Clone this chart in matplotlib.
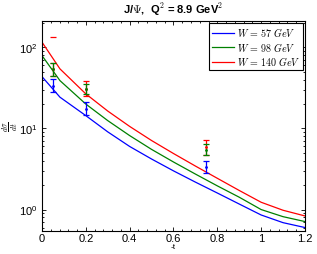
import numpy as np
import matplotlib
matplotlib.use('Agg')
import matplotlib.pyplot as plt
from matplotlib.ticker import MultipleLocator, LogLocator, NullFormatter

plt.rcParams['font.family'] = ['Liberation Sans', 'DejaVu Sans']
plt.rcParams['mathtext.fontset'] = 'cm'

# ---- model curves ----
t_curve = [0.0, 0.082, 0.2, 0.3, 0.4, 0.5, 0.6, 0.7, 0.8, 0.9, 1.0, 1.1, 1.2]
w57 = [43.6, 24.3, 14.4, 9.08, 6.0, 4.2, 3.0, 2.18, 1.6, 1.17, 0.857, 0.689, 0.6]
w98 = [79.2, 38.9, 20.0, 12.5, 8.17, 5.52, 3.86, 2.74, 1.96, 1.42, 1.0, 0.817, 0.711]
w140 = [116, 54.3, 26.7, 16.4, 10.6, 7.1, 4.91, 3.44, 2.43, 1.72, 1.23, 0.98, 0.834]

# ---- data points ----
t_data = [0.05, 0.2, 0.75]
blue_val = [33.8, 17.6, 3.37]
blue_lo = [28.0, 14.7, 2.82]
blue_hi = [40.8, 21.1, 4.0]
green_val = [53.8, 30.7, 5.5]
green_lo = [44.9, 26.7, 4.71]
green_hi = [64.4, 35.4, 6.44]
red_val = [53.8, 31.0, 5.9]
red_lo = [44.9, 25.4, 4.71]
red_hi = [64.4, 38.9, 7.27]
red_extra_t = [0.05]
red_extra_val = [136]

labels = [r'$W\,=\,57\ GeV$', r'$W\,=\,98\ GeV$', r'$W\,=\,140\ GeV$']
colors = ['#0000ff', '#008000', '#ff0000']

fig = plt.figure(figsize=(3.17, 2.55), dpi=100)
ax = fig.add_axes([0.1325, 0.090, 0.8295, 0.824])

for ys, c, lab in zip([w57, w98, w140], colors, labels):
    ax.semilogy(t_curve, ys, color=c, lw=0.9, label=lab)

def err(v, lo, hi):
    v = np.array(v); return [v - np.array(lo), np.array(hi) - v]

ax.errorbar(t_data, red_val, yerr=err(red_val, red_lo, red_hi), fmt='.', color=colors[2],
            ms=2, lw=0.9, capsize=2, capthick=0.9)
ax.errorbar(t_data, green_val, yerr=err(green_val, green_lo, green_hi), fmt='.', color=colors[1],
            ms=2, lw=0.9, capsize=2, capthick=0.9)
ax.errorbar(t_data, blue_val, yerr=err(blue_val, blue_lo, blue_hi), fmt='.', color=colors[0],
            ms=2, lw=0.9, capsize=2, capthick=0.9)
ax.plot(red_extra_t, red_extra_val, '_', color=colors[2], ms=4, mew=0.9)

ax.set_xlim(0, 1.2)
ax.set_ylim(0.543, 212)
ax.set_xticks([0, 0.2, 0.4, 0.6, 0.8, 1.0, 1.2])
ax.set_xticklabels(['0', '0.2', '0.4', '0.6', '0.8', '1', '1.2'])
ax.xaxis.set_minor_locator(MultipleLocator(0.04))
ax.yaxis.set_minor_locator(LogLocator(base=10, subs=np.arange(2, 10)))
ax.yaxis.set_minor_formatter(NullFormatter())
ax.tick_params(which='both', direction='in', top=True, right=True, labelsize=8, width=0.6)
ax.tick_params(axis='x', pad=1.5)
ax.tick_params(which='major', length=3)
ax.tick_params(which='minor', length=1.5)
for s in ax.spines.values():
    s.set_linewidth(0.8)

ax.set_title(r'J/$\mathbf{\Psi}$,  Q$^\mathbf{2}$ = 8.9 GeV$^\mathbf{2}$', fontsize=8,
             fontweight='bold', pad=6)
ax.set_xlabel('-t', fontsize=6, labelpad=0)
ax.set_ylabel(r'$\frac{d\sigma}{dt}$', fontsize=8, rotation=90, labelpad=-1)

leg = ax.legend(loc='upper right', fontsize=7.2, fancybox=False, edgecolor='black',
                framealpha=1, borderaxespad=0.2, handlelength=2.2, handletextpad=0.3,
                labelspacing=0.15, borderpad=0.25)
leg.get_frame().set_linewidth(0.8)

fig.savefig('out.png', dpi=100)
